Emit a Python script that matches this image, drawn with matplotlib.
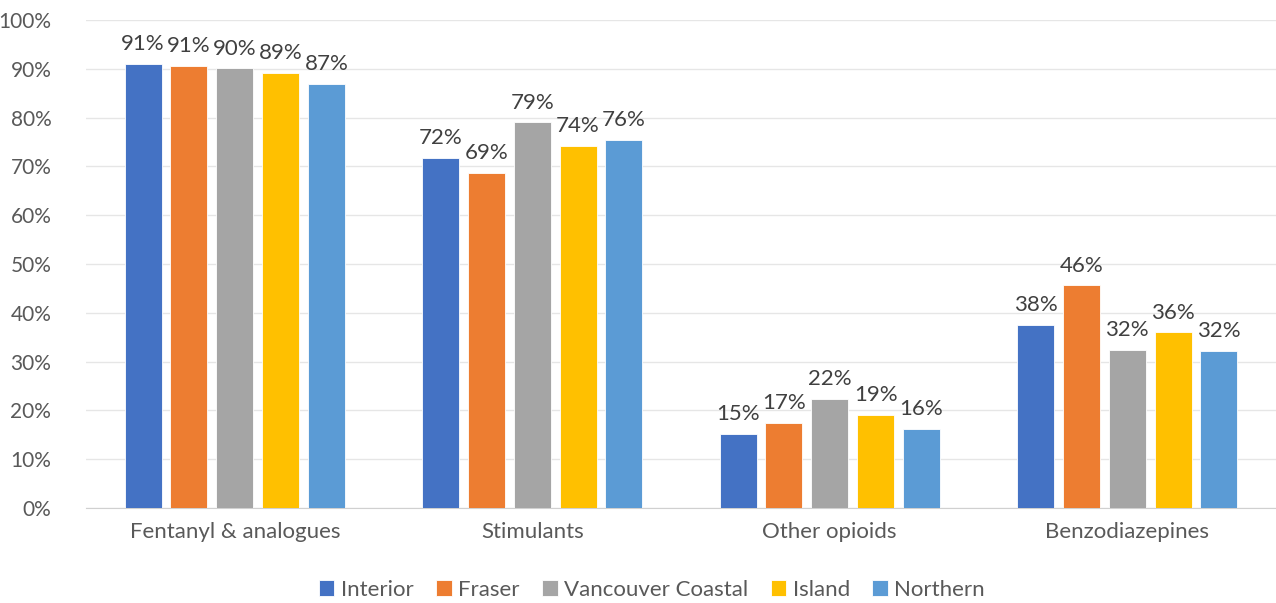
import numpy as np
import matplotlib.pyplot as plt
from matplotlib.ticker import PercentFormatter

plt.rcParams['font.family'] = ['Lato', 'DejaVu Sans']

categories = ['Fentanyl & analogues', 'Stimulants', 'Other opioids', 'Benzodiazepines']
regions = ['Interior', 'Fraser', 'Vancouver Coastal', 'Island', 'Northern']
colors = ['#4472C4', '#ED7D31', '#A5A5A5', '#FFC000', '#5B9BD5']

# percent of deaths by drug type, per health authority
interior = [91.0, 71.8, 15.2, 37.6]
fraser = [90.6, 68.6, 17.4, 45.6]
vancouver_coastal = [90.1, 79.0, 22.3, 32.4]
island = [89.2, 74.2, 19.1, 36.0]
northern = [86.9, 75.5, 16.2, 32.2]
series = [interior, fraser, vancouver_coastal, island, northern]

fig = plt.figure(figsize=(12.76, 6.03), dpi=100)
ax = fig.add_axes([86 / 1276, 1 - 508 / 603, 1190 / 1276, 488 / 603])

x = np.arange(len(categories))
step = 0.154
width = 0.124
for i, (name, vals) in enumerate(zip(regions, series)):
    pos = x + (i - 2) * step
    bars = ax.bar(pos, vals, width, color=colors[i], label=name,
                  edgecolor='white', linewidth=0.6, zorder=3)
    for b, v in zip(bars, vals):
        ax.text(b.get_x() + b.get_width() / 2, v + 2.0, '%d%%' % round(v),
                ha='center', va='bottom', fontsize=16, color='#404040')

ax.set_ylim(0, 100)
ax.set_xlim(-0.5, 3.5)
ax.set_yticks(np.arange(0, 101, 10))
ax.yaxis.set_major_formatter(PercentFormatter(decimals=0))
ax.set_xticks(x)
ax.set_xticklabels(categories, fontsize=16)
ax.tick_params(axis='both', length=0, labelcolor='#595959')
ax.tick_params(axis='y', labelsize=15, pad=25)
ax.tick_params(axis='x', pad=10)
ax.grid(axis='y', color='#E6E6E6', linewidth=1, zorder=0)
for s in ['top', 'right', 'left']:
    ax.spines[s].set_visible(False)
ax.spines['bottom'].set_color('#D0D0D0')

ax.legend(loc='center', bbox_to_anchor=(652 / 1276, 1 - 590 / 603), bbox_transform=fig.transFigure,
          ncol=5, frameon=False, fontsize=16, handlelength=0.7, handleheight=0.7,
          handletextpad=0.3, columnspacing=1.0, labelcolor='#595959')

fig.savefig('out.png', dpi=100)
